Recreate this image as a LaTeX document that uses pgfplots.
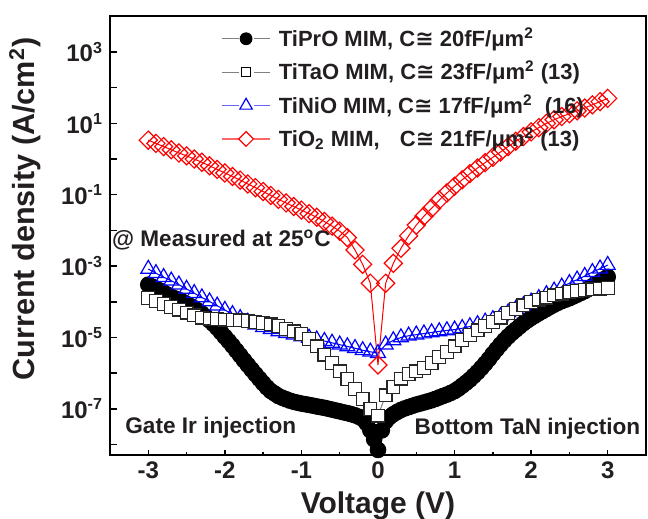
\documentclass[border=0pt]{standalone}
\usepackage{pgfplots}
\pgfplotsset{compat=1.18}
\usepackage{fontspec}
\setmainfont{Liberation Sans}
\newfontfamily\dejavu{DejaVu Sans}
\definecolor{txt}{RGB}{35,31,32}
\newcommand{\Cg}{{\dejavu\char"2245}}
\begin{document}
\begin{tikzpicture}[font=\bfseries, text=txt]
\begin{axis}[name=ax, scale only axis, width=268pt, height=219.5pt,
  xmin=-3.5, xmax=3.5, ymode=log, ymin=5.1e-9, ymax=1.02e4,
  axis line style={line width=0.7pt, black},
  every tick/.style={line width=0.7pt, black},
  tick align=inside, xtick pos=bottom, ytick pos=left,
  xtick={-3,-2,-1,0,1,2,3}, xticklabels={-3,-2,-1,0,1,2,3},
  minor xtick={-3.5,-2.5,-1.5,-0.5,0.5,1.5,2.5,3.5},
  major tick length=2.7pt, minor tick length=1.7pt,
  ytick=\empty, yminorticks=false,
  extra y ticks={1e-8,1e-7,1e-6,1e-5,1e-4,1e-3,1e-2,1e-1,1,1e1,1e2,1e3,1e4},
  extra y tick labels={,10\textsuperscript{-7},,10\textsuperscript{-5},,10\textsuperscript{-3},,10\textsuperscript{-1},,10\textsuperscript{1},,10\textsuperscript{3},},
  extra tick style={major tick length=3.7pt},
  xticklabel style={font=\fontsize{12}{14}\selectfont\bfseries},
  yticklabel style={font=\fontsize{12}{14}\selectfont\bfseries},
  xlabel={Voltage (V)}, ylabel={Current density (A/cm\textsuperscript{2})},
  xlabel style={font=\fontsize{15}{17}\selectfont\bfseries, at={(axis description cs:0.5,0)}, anchor=north, yshift=-15pt},
  ylabel style={font=\fontsize{15.3}{17}\selectfont\bfseries, at={(axis description cs:-0.1586,0.56)}, anchor=center},
  legend image code/.code={
    \draw[mark=none] (0pt,0pt) -- (8.5pt,0pt);
    \draw[mark=none] (16.3pt,0pt) -- (24.3pt,0pt);
    \draw plot coordinates {(12.2pt,0pt)};
  },
  legend style={draw=none, fill=none, inner sep=0pt, row sep=6.2pt, column sep=4pt,
    at={(axis description cs:0.2065,0.973)}, anchor=north west,
    font=\fontsize{11}{13}\selectfont\bfseries,
    nodes={inner sep=0pt, text height=9pt, text depth=1.5pt}},
  legend cell align=left,
]
% TiPrO (black filled circles)
\addplot[color=gray, line width=0.5pt, mark=*, mark size=3.9pt, mark options={draw=black, fill=black}, forget plot] coordinates {
(-3.0,3.02e-4) (-2.95,2.66e-4) (-2.9,2.34e-4) (-2.85,2.06e-4) (-2.8,1.82e-4) (-2.75,1.58e-4) (-2.7,1.38e-4) (-2.65,1.24e-4) (-2.6,1.12e-4) (-2.55,9.9e-5) (-2.5,8.71e-5) (-2.45,7.6e-5) (-2.4,6.61e-5) (-2.35,5.6e-5) (-2.3,4.68e-5) (-2.25,3.8e-5) (-2.2,3.02e-5) (-2.15,2.4e-5) (-2.1,1.86e-5) (-2.05,1.4e-5) (-2.0,1.05e-5) (-1.95,7.9e-6) (-1.9,5.89e-6) (-1.85,4.3e-6) (-1.8,3.16e-6) (-1.75,2.3e-6) (-1.7,1.70e-6) (-1.65,1.26e-6) (-1.6,9.33e-7) (-1.55,7.0e-7) (-1.5,5.25e-7) (-1.45,4.0e-7) (-1.4,3.16e-7) (-1.35,2.7e-7) (-1.3,2.29e-7) (-1.25,2.05e-7) (-1.2,1.86e-7) (-1.15,1.7e-7) (-1.1,1.58e-7) (-1.05,1.49e-7) (-1.0,1.41e-7) (-0.95,1.35e-7) (-0.9,1.29e-7) (-0.85,1.23e-7) (-0.8,1.17e-7) (-0.75,1.12e-7) (-0.7,1.07e-7) (-0.65,1.01e-7) (-0.6,9.55e-8) (-0.55,9.0e-8) (-0.5,8.51e-8) (-0.45,8.0e-8) (-0.4,7.59e-8) (-0.35,7.1e-8) (-0.3,6.61e-8) (-0.25,6.0e-8) (-0.2,5.25e-8) (-0.15,4.0e-8) (-0.1,2.51e-8) (-0.05,1.4e-8) (0,7.08e-9) (0.05,2.5e-8) (0.1,4.47e-8) (0.15,5.9e-8) (0.2,7.08e-8) (0.25,8.2e-8) (0.3,9.33e-8) (0.35,1.03e-7) (0.4,1.12e-7) (0.45,1.22e-7) (0.5,1.32e-7) (0.55,1.41e-7) (0.6,1.51e-7) (0.65,1.62e-7) (0.7,1.74e-7) (0.75,1.9e-7) (0.8,2.09e-7) (0.85,2.3e-7) (0.9,2.51e-7) (0.95,2.8e-7) (1.0,3.16e-7) (1.05,3.7e-7) (1.1,4.47e-7) (1.15,5.4e-7) (1.2,6.61e-7) (1.25,8.4e-7) (1.3,1.07e-6) (1.35,1.4e-6) (1.4,1.86e-6) (1.45,2.5e-6) (1.5,3.47e-6) (1.55,4.7e-6) (1.6,6.31e-6) (1.65,8.3e-6) (1.7,1.07e-5) (1.75,1.35e-5) (1.8,1.66e-5) (1.85,2.05e-5) (1.9,2.51e-5) (1.95,3.0e-5) (2.0,3.55e-5) (2.05,4.1e-5) (2.1,4.79e-5) (2.15,5.5e-5) (2.2,6.31e-5) (2.25,7.3e-5) (2.3,8.32e-5) (2.35,9.4e-5) (2.4,1.05e-4) (2.45,1.15e-4) (2.5,1.26e-4) (2.55,1.41e-4) (2.6,1.58e-4) (2.65,1.78e-4) (2.7,2.0e-4) (2.75,2.35e-4) (2.8,2.75e-4) (2.85,3.15e-4) (2.9,3.63e-4) (2.95,4.25e-4) (3.0,5.01e-4)
};
% TiNiO (blue open triangles)
\addplot[color=blue, line width=0.5pt, mark=triangle, mark size=4.3pt, mark options={blue, line width=0.6pt}, forget plot] coordinates {
(-3.0,8.32e-4) (-2.9,6.31e-4) (-2.8,4.90e-4) (-2.7,3.89e-4) (-2.6,3.02e-4) (-2.5,2.29e-4) (-2.4,1.74e-4) (-2.3,1.32e-4) (-2.2,1.02e-4) (-2.1,7.76e-5) (-2.0,5.89e-5) (-1.9,4.47e-5) (-1.8,3.47e-5) (-1.7,2.75e-5) (-1.6,2.29e-5) (-1.5,1.95e-5) (-1.4,1.70e-5) (-1.3,1.48e-5) (-1.2,1.32e-5) (-1.1,1.20e-5) (-1.0,1.07e-5) (-0.9,9.77e-6) (-0.8,8.71e-6) (-0.7,7.94e-6) (-0.6,7.08e-6) (-0.5,6.31e-6) (-0.4,5.62e-6) (-0.3,5.01e-6) (-0.2,4.37e-6) (-0.1,3.98e-6) (0,3.63e-6) (0.1,6.31e-6) (0.2,8.32e-6) (0.3,1.0e-5) (0.4,1.12e-5) (0.5,1.20e-5) (0.6,1.29e-5) (0.7,1.38e-5) (0.8,1.48e-5) (0.9,1.58e-5) (1.0,1.66e-5) (1.1,1.82e-5) (1.2,2.04e-5) (1.3,2.34e-5) (1.4,2.75e-5) (1.5,3.24e-5) (1.6,3.89e-5) (1.7,5.01e-5) (1.8,6.31e-5) (1.9,7.94e-5) (2.0,1.0e-4) (2.1,1.26e-4) (2.2,1.62e-4) (2.3,2.04e-4) (2.4,2.63e-4) (2.5,3.31e-4) (2.6,4.17e-4) (2.7,5.25e-4) (2.8,6.76e-4) (2.9,8.51e-4) (3.0,1.07e-3)
};
% TiTaO (open squares)
\addplot[color=gray, line width=0.5pt, mark=square*, mark size=3.2pt, mark options={draw=black!85, fill=white, line width=0.6pt}, forget plot] coordinates {
(-3.0,1.26e-4) (-2.9,1.05e-4) (-2.8,8.71e-5) (-2.7,7.24e-5) (-2.6,6.03e-5) (-2.5,5.01e-5) (-2.4,4.17e-5) (-2.3,3.63e-5) (-2.2,3.39e-5) (-2.1,3.24e-5) (-2.0,3.16e-5) (-1.9,3.09e-5) (-1.8,3.02e-5) (-1.7,2.88e-5) (-1.6,2.75e-5) (-1.5,2.57e-5) (-1.4,2.34e-5) (-1.3,2.09e-5) (-1.2,1.74e-5) (-1.1,1.48e-5) (-1.0,1.26e-5) (-0.9,8.91e-6) (-0.8,5.62e-6) (-0.7,3.31e-6) (-0.6,1.91e-6) (-0.5,1.12e-6) (-0.4,6.76e-7) (-0.3,3.55e-7) (-0.2,1.91e-7) (-0.1,1.0e-7) (0,6.46e-8) (0.1,2.40e-7) (0.2,4.17e-7) (0.3,7.08e-7) (0.4,9.33e-7) (0.5,1.12e-6) (0.6,1.41e-6) (0.7,1.91e-6) (0.8,2.82e-6) (0.9,3.98e-6) (1.0,5.62e-6) (1.1,8.51e-6) (1.2,1.17e-5) (1.3,1.58e-5) (1.4,2.09e-5) (1.5,2.75e-5) (1.6,3.63e-5) (1.7,4.79e-5) (1.8,6.31e-5) (1.9,7.94e-5) (2.0,9.77e-5) (2.1,1.15e-4) (2.2,1.32e-4) (2.3,1.51e-4) (2.4,1.70e-4) (2.5,1.86e-4) (2.6,2.0e-4) (2.7,2.14e-4) (2.8,2.24e-4) (2.9,2.34e-4) (3.0,2.40e-4)
};
% TiO2 (red open diamonds)
\addplot[color=red, line width=0.5pt, mark=square, mark size=3.2pt, mark options={red, rotate=45, line width=0.6pt}, forget plot] coordinates {
(-3.0,3.39) (-2.9,2.75) (-2.8,2.24) (-2.7,1.82) (-2.6,1.48) (-2.5,1.23) (-2.4,1.0) (-2.3,0.813) (-2.2,0.646) (-2.1,0.513) (-2.0,0.407) (-1.9,0.324) (-1.8,0.257) (-1.7,0.200) (-1.6,0.158) (-1.5,0.123) (-1.4,0.0955) (-1.3,0.0741) (-1.2,0.0589) (-1.1,0.0468) (-1.0,0.0372) (-0.9,0.0295) (-0.8,0.0234) (-0.7,0.0178) (-0.6,0.0132) (-0.5,0.00955) (-0.4,0.00631) (-0.3,0.00282) (-0.2,0.00112) (-0.1,3.31e-4) (0,1.70e-6) (0.1,3.31e-4) (0.2,1.20e-3) (0.3,3.16e-3) (0.4,7.08e-3) (0.5,0.0141) (0.6,0.0251) (0.7,0.0417) (0.8,0.0708) (0.9,0.112) (1.0,0.174) (1.1,0.263) (1.2,0.389) (1.3,0.562) (1.4,0.794) (1.5,1.12) (1.6,1.58) (1.7,2.24) (1.8,3.16) (1.9,4.27) (2.0,5.75) (2.1,7.59) (2.2,10.0) (2.3,12.6) (2.4,15.5) (2.5,18.6) (2.6,22.4) (2.7,26.9) (2.8,33.1) (2.9,40.7) (3.0,50.1)
};
\addlegendimage{gray, line width=0.6pt, mark=*, mark size=2.9pt, mark options={black, fill=black}}
\addlegendentry{TiPrO MIM, C\Cg{} 20fF/μm\textsuperscript{2}}
\addlegendimage{gray, line width=0.6pt, mark=square*, mark size=2.3pt, mark options={black, fill=white, line width=0.6pt}}
\addlegendentry{TiTaO MIM, C\Cg{} 23fF/μm\textsuperscript{2} (13)}
\addlegendimage{blue!60, line width=0.6pt, mark=triangle, mark size=3.6pt, mark options={blue, line width=0.6pt}}
\addlegendentry{TiNiO MIM, C\Cg{} 17fF/μm\textsuperscript{2}\ \ (16)}
\addlegendimage{red!60, line width=0.6pt, mark=square, mark size=2.6pt, mark options={red, rotate=45, line width=0.6pt}}
\addlegendentry{\makebox[5.5em][l]{TiO\textsubscript{2} MIM,}C\Cg{} 21fF/μm\textsuperscript{2} (13)}
\node[anchor=base west, inner sep=0pt, font=\fontsize{11.3}{13}\selectfont\bfseries] at (rel axis cs:0.0032,0.4745) {@ Measured at 25\textsuperscript{o}C};
\node[anchor=base west, inner sep=0pt, font=\fontsize{11.3}{13}\selectfont\bfseries] at (rel axis cs:0.028,0.0494) {Gate Ir injection};
\node[anchor=base east, inner sep=0pt, font=\fontsize{11.3}{13}\selectfont\bfseries] at (rel axis cs:0.9901,0.0456) {Bottom TaN injection};
\end{axis}
\pgfresetboundingbox
\path[use as bounding box] ([shift={(-55pt,-32pt)}]ax.south west) rectangle ([shift={(269pt,227.5pt)}]ax.south west);
\end{tikzpicture}
\end{document}
